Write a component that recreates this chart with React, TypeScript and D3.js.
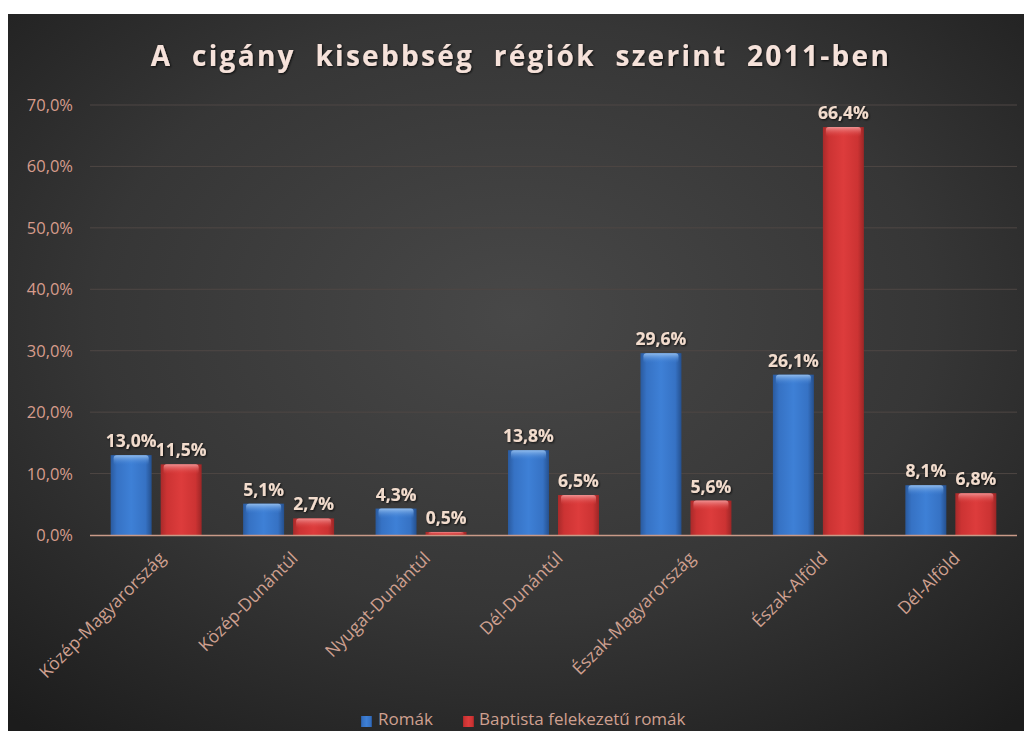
import React from "react";
import * as d3 from "d3";

const categories = [
  "Közép-Magyarország",
  "Közép-Dunántúl",
  "Nyugat-Dunántúl",
  "Dél-Dunántúl",
  "Észak-Magyarország",
  "Észak-Alföld",
  "Dél-Alföld",
];
const romak = [13.0, 5.1, 4.3, 13.8, 29.6, 26.1, 8.1];
const baptista = [11.5, 2.7, 0.5, 6.5, 5.6, 66.4, 6.8];
const seriesNames = ["Romák", "Baptista felekezetű romák"];
const yTicks = [0, 10, 20, 30, 40, 50, 60, 70];
const title = "A cigány kisebbség régiók szerint 2011-ben";

const W = 1024;
const H = 731;
const left = 90;
const right = 1017;
const top = 105;
const bottom = 535;

const fmt = (v: number) => v.toFixed(1).replace(".", ",") + "%";

export default function App() {
  const x0 = d3.scaleBand<string>().domain(categories).range([left, right]).paddingInner(0.313).paddingOuter(0.156);
  const x1 = d3.scaleBand<number>().domain([0, 1]).range([0, x0.bandwidth()]).paddingInner(0.18);
  const y = d3.scaleLinear().domain([0, 70]).range([bottom, top]);
  const series = [romak, baptista];
  const gradIds = ["gBlue", "gRed"];
  const hiIds = ["hBlue", "hRed"];

  return (
    <svg width={W} height={H} style={{ position: "absolute", left: 0, top: 0 }} fontFamily="'Open Sans', sans-serif">
      <defs>
        <radialGradient id="bg" cx="0.5" cy="0.42" r="0.75">
          <stop offset="0" stopColor="#484848" />
          <stop offset="0.55" stopColor="#363636" />
          <stop offset="1" stopColor="#1c1c1c" />
        </radialGradient>
        <linearGradient id="gBlue" x1="0" x2="1" y1="0" y2="0">
          <stop offset="0" stopColor="#2a5a9e" />
          <stop offset="0.15" stopColor="#3672c4" />
          <stop offset="0.5" stopColor="#3e80d6" />
          <stop offset="0.85" stopColor="#3672c4" />
          <stop offset="1" stopColor="#25508e" />
        </linearGradient>
        <linearGradient id="gRed" x1="0" x2="1" y1="0" y2="0">
          <stop offset="0" stopColor="#a82a2a" />
          <stop offset="0.15" stopColor="#cc3333" />
          <stop offset="0.5" stopColor="#dd3c3c" />
          <stop offset="0.85" stopColor="#cc3333" />
          <stop offset="1" stopColor="#9c2626" />
        </linearGradient>
        <linearGradient id="hBlue" x1="0" x2="0" y1="0" y2="1">
          <stop offset="0" stopColor="#9cc4f0" stopOpacity="0.9" />
          <stop offset="1" stopColor="#3e80d6" stopOpacity="0" />
        </linearGradient>
        <linearGradient id="hRed" x1="0" x2="0" y1="0" y2="1">
          <stop offset="0" stopColor="#f29a9a" stopOpacity="0.9" />
          <stop offset="1" stopColor="#dd3c3c" stopOpacity="0" />
        </linearGradient>
        <filter id="sh" x="-20%" y="-20%" width="140%" height="140%">
          <feDropShadow dx="1" dy="1" stdDeviation="1" floodColor="#000" floodOpacity="0.8" />
        </filter>
      </defs>
      <rect x={0} y={0} width={W} height={H} fill="#fff" />
      <rect x={8} y={14} width={W - 8} height={H - 14} fill="url(#bg)" />

      <text
        x={521}
        y={66}
        textAnchor="middle"
        fontSize={28}
        fontWeight="bold"
        fill="#f6e2da"
        letterSpacing={2.3}
        wordSpacing={10}
        filter="url(#sh)"
      >
        {title}
      </text>

      {yTicks.map((t) => (
        <g key={t}>
          {t > 0 && <line x1={left} x2={right} y1={y(t)} y2={y(t)} stroke="#4e4744" strokeWidth={1} />}
          <text x={73} y={y(t) + 6} textAnchor="end" fontSize={16.5} fill="#d79c8c">
            {fmt(t)}
          </text>
        </g>
      ))}

      {categories.map((c, i) => (
        <g key={c}>
          {series.map((s, j) => {
            const bx = (x0(c) as number) + (x1(j) as number);
            const bw = x1.bandwidth();
            const by = y(s[i]);
            const bh = bottom - by;
            return (
              <g key={j}>
                <rect x={bx} y={by} width={bw} height={bh} fill={`url(#${gradIds[j]})`} />
                <rect x={bx + 3} y={by} width={bw - 6} height={Math.min(10, bh)} fill={`url(#${hiIds[j]})`} rx={3} />
                <text
                  x={bx + bw / 2}
                  y={by - 8}
                  textAnchor="middle"
                  fontSize={17.5}
                  fontWeight="bold"
                  fill="#f2dccd"
                  filter="url(#sh)"
                >
                  {fmt(s[i])}
                </text>
              </g>
            );
          })}
          <text
            transform={`translate(${(x0(c) as number) + x0.bandwidth() / 2 + 6},${bottom + 20}) rotate(-45)`}
            textAnchor="end"
            dy="0.35em"
            fontSize={17.5}
            fill="#cfa090"
          >
            {c}
          </text>
        </g>
      ))}

      <line x1={left} x2={right} y1={bottom + 0.5} y2={bottom + 0.5} stroke="#c99a88" strokeWidth={1.5} />

      <g>
        <rect x={361} y={716} width={11} height={11} fill="url(#gBlue)" />
        <text x={378} y={725} fontSize={17} fill="#cfa090">{seriesNames[0]}</text>
        <rect x={463} y={716} width={11} height={11} fill="url(#gRed)" />
        <text x={479} y={725} fontSize={17} fill="#cfa090">{seriesNames[1]}</text>
      </g>
    </svg>
  );
}
